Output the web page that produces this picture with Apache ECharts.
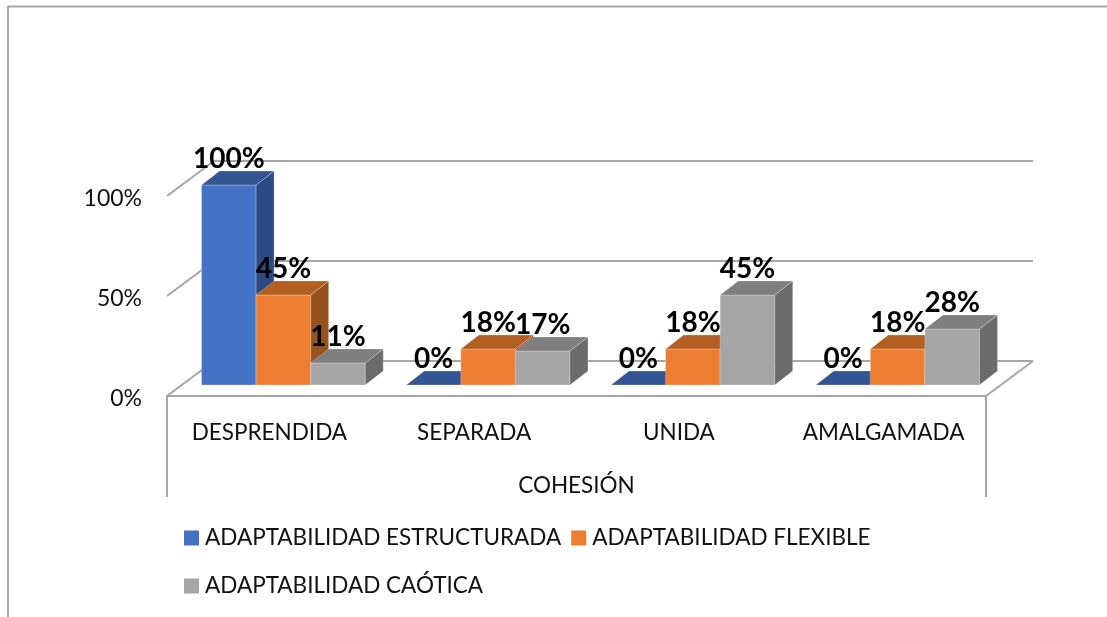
<!DOCTYPE html>
<html>
<head>
<meta charset="utf-8">
<style>
  html, body { margin: 0; padding: 0; background: #fff; }
  #main { width: 1107px; height: 617px; }
</style>
</head>
<body>
<div id="main"></div>
<script src="https://cdn.jsdelivr.net/npm/echarts@6/dist/echarts.min.js"></script>
<script>
var categories = ['DESPRENDIDA', 'SEPARADA', 'UNIDA', 'AMALGAMADA']
var estructurada = [100, 0, 0, 0]
var flexible = [45, 18, 18, 18]
var caotica = [11, 17, 45, 28]
var yTicks = [0, 50, 100]

var FONT = 'Lato, "Noto Sans", sans-serif'
var LINE = '#a6a6a6'
var TEXT = '#111'
// desplazamiento 3D del suelo y de las barras
var FLOOR_DX = 47, FLOOR_DY = -35
var BAR_SHIFT_X = 14, BAR_SHIFT_Y = -11
var BAR_DX = 18, BAR_DY = -14

var palette = [
  { front: '#4472c4', top: '#335593', side: '#2c4a82' },
  { front: '#ed7d31', top: '#b45f22', side: '#97531d' },
  { front: '#a5a5a5', top: '#7f7f7f', side: '#6b6b6b' }
]

function poly(points, fill) {
  return { type: 'polygon', shape: { points: points }, style: { fill: fill, stroke: 'rgba(255,255,255,0.25)', lineWidth: 1 } }
}

function barRenderer(seriesIdx) {
  return function (params, api) {
    var cat = api.value(0)
    var val = api.value(1)
    var base = api.coord([cat, 0])
    var head = api.coord([cat, val])
    var w = api.size([1, 0])[0] * 0.2665
    var x0 = base[0] + BAR_SHIFT_X + (seriesIdx - 1.5) * w
    var x1 = x0 + w
    var yb = base[1] + BAR_SHIFT_Y
    var yt = head[1] + BAR_SHIFT_Y
    var c = palette[seriesIdx]
    var children = []
    if (val > 0) {
      children.push(poly([[x0, yb], [x1, yb], [x1, yt], [x0, yt]], c.front))
      children.push(poly([[x1, yb], [x1 + BAR_DX, yb + BAR_DY], [x1 + BAR_DX, yt + BAR_DY], [x1, yt]], c.side))
    }
    children.push(poly([[x0, yt], [x1, yt], [x1 + BAR_DX, yt + BAR_DY], [x0 + BAR_DX, yt + BAR_DY]], c.top))
    children.push({
      type: 'text',
      z2: 100,
      style: {
        text: val + '%',
        x: (x0 + x1) / 2,
        y: yt - 26,
        align: 'center',
        verticalAlign: 'middle',
        font: 'bold 28px ' + FONT,
        fill: '#000'
      }
    })
    return { type: 'group', children: children }
  }
}

function wallRenderer(params, api) {
  var p = api.coord([0, api.value(1)])
  var band = api.size([1, 0])[0]
  var xl = p[0] - band / 2
  var xr = xl + band * categories.length
  var style = { stroke: LINE, lineWidth: 2, fill: null }
  var children = [{
    type: 'polyline',
    shape: { points: [[xl, p[1]], [xl + FLOOR_DX, p[1] + FLOOR_DY], [xr + FLOOR_DX, p[1] + FLOOR_DY]] },
    style: style
  }]
  if (api.value(1) === 0) {
    // borde derecho del suelo y separadores del eje de categorias
    children.push({ type: 'line', shape: { x1: xr, y1: p[1], x2: xr + FLOOR_DX, y2: p[1] + FLOOR_DY }, style: style })
    children.push({ type: 'line', shape: { x1: xl, y1: p[1], x2: xl, y2: p[1] + 101 }, style: style })
    children.push({ type: 'line', shape: { x1: xr, y1: p[1], x2: xr, y2: p[1] + 101 }, style: style })
  }
  return { type: 'group', children: children }
}

function barSeries(name, values, idx) {
  return {
    name: name,
    type: 'custom',
    renderItem: barRenderer(idx),
    itemStyle: { color: palette[idx].front },
    encode: { x: 0, y: 1 },
    z: 3,
    data: values.map(function (v, i) { return [i, v] })
  }
}

var myChart = echarts.init(document.getElementById('main'))
myChart.setOption({
  animation: false,
  backgroundColor: '#fff',
  textStyle: { fontFamily: FONT },
  grid: { left: 167, top: 196, width: 819, height: 200 },
  legend: {
    data: ['ADAPTABILIDAD ESTRUCTURADA', 'ADAPTABILIDAD FLEXIBLE', 'ADAPTABILIDAD CAÓTICA'],
    left: 179,
    top: 514,
    width: 720,
    padding: 5,
    itemGap: 10,
    itemWidth: 15,
    itemHeight: 15,
    icon: 'rect',
    textStyle: { fontSize: 22.5, color: TEXT, fontFamily: FONT, lineHeight: 38, padding: [0, 0, 0, 1] }
  },
  xAxis: {
    type: 'category',
    data: categories,
    name: 'COHESIÓN',
    nameLocation: 'middle',
    nameGap: 78,
    nameTextStyle: { fontSize: 22.5, color: TEXT, fontFamily: FONT },
    axisLine: { show: true, lineStyle: { color: LINE, width: 2 } },
    axisTick: { show: false },
    axisLabel: { interval: 0, margin: 25, fontSize: 22.5, color: TEXT, fontFamily: FONT }
  },
  yAxis: {
    type: 'value',
    min: 0,
    max: 100,
    interval: 50,
    axisLine: { show: false },
    axisTick: { show: false },
    splitLine: { show: false },
    axisLabel: { formatter: '{value}%', margin: 25, verticalAlign: 'top', padding: [-9, 0, 0, 0], fontSize: 23, color: TEXT, fontFamily: FONT }
  },
  graphic: [
    { type: 'line', shape: { x1: 8, y1: 6.5, x2: 1107, y2: 6.5 }, style: { stroke: LINE, lineWidth: 2 } },
    { type: 'line', shape: { x1: 8, y1: 6, x2: 8, y2: 617 }, style: { stroke: LINE, lineWidth: 2 } }
  ],
  series: [
    {
      type: 'custom',
      renderItem: wallRenderer,
      encode: { x: 0, y: 1 },
      z: 1,
      silent: true,
      data: yTicks.map(function (t) { return [0, t] })
    },
    barSeries('ADAPTABILIDAD ESTRUCTURADA', estructurada, 0),
    barSeries('ADAPTABILIDAD FLEXIBLE', flexible, 1),
    barSeries('ADAPTABILIDAD CAÓTICA', caotica, 2)
  ]
})
</script>
</body>
</html>
